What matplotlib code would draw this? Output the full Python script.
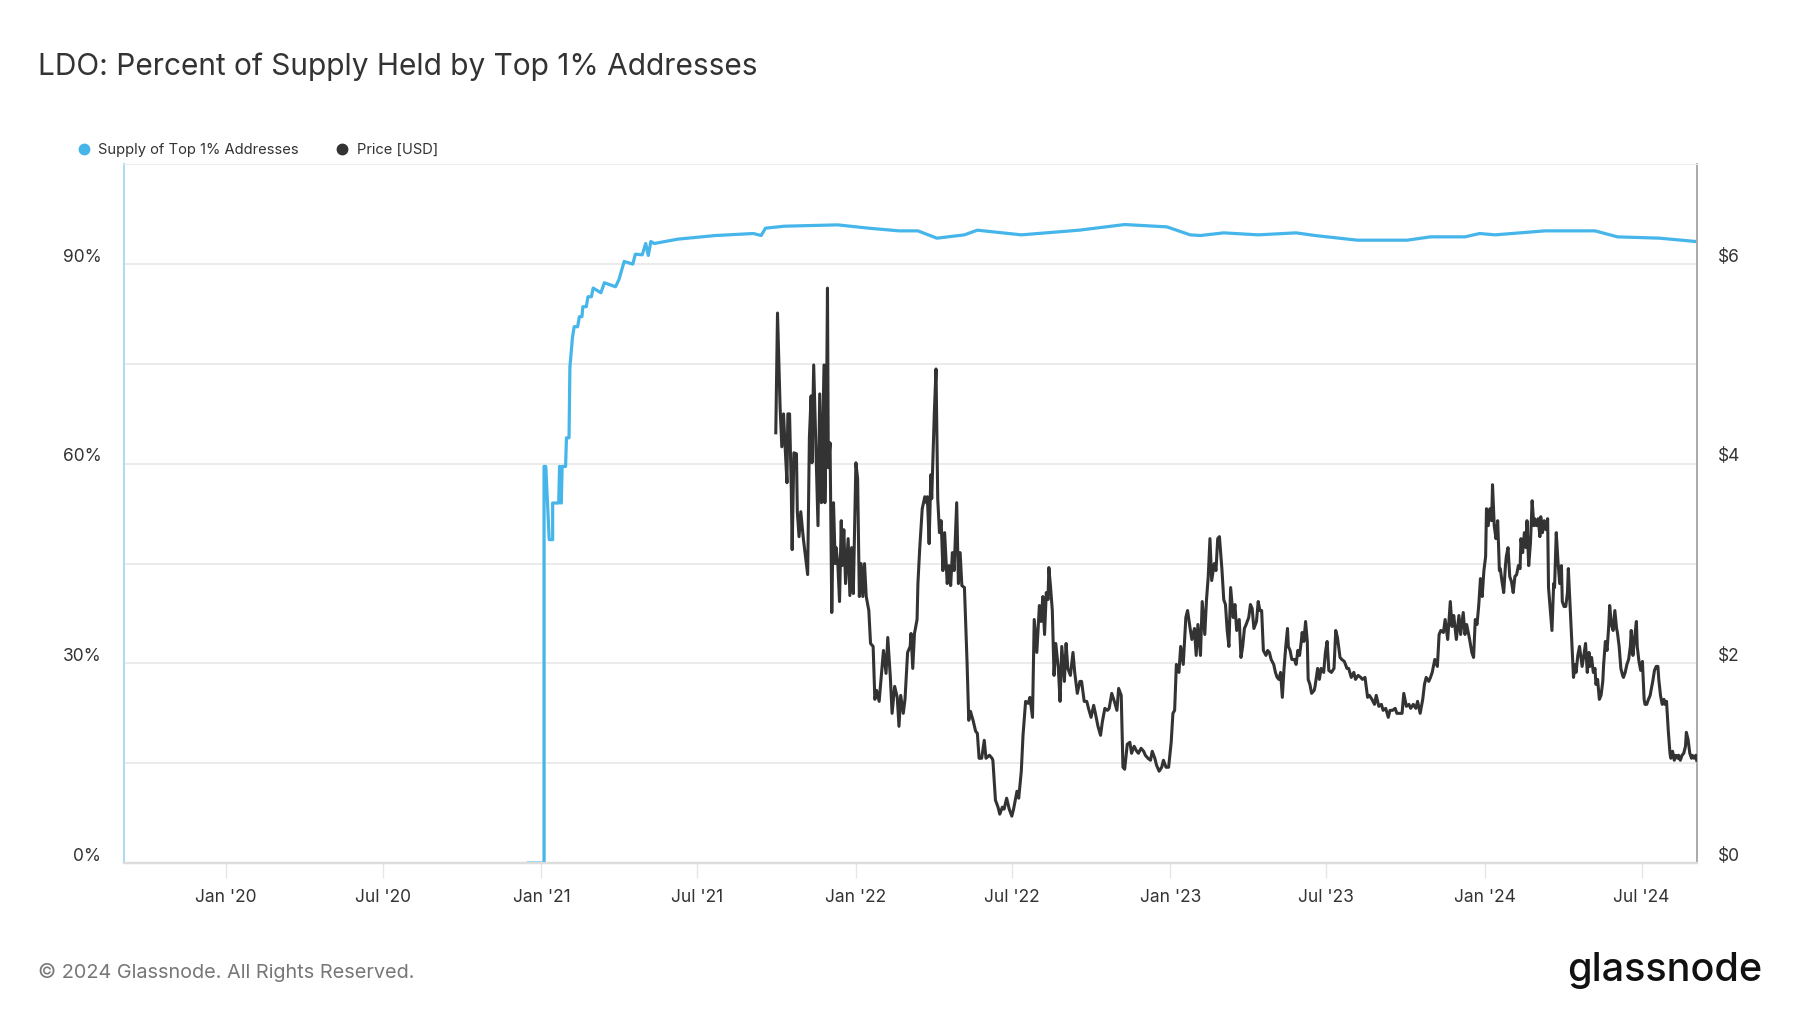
import numpy as np
import matplotlib
matplotlib.use("Agg")
import matplotlib.pyplot as plt
import matplotlib.dates as mdates
from matplotlib.lines import Line2D
from matplotlib.ticker import FixedLocator, FuncFormatter
from matplotlib.transforms import ScaledTranslation

plt.rcParams['font.family'] = ['Inter', 'DejaVu Sans']

# days counted from 2021-01-01
base = np.datetime64('2021-01-01')

supply_day = [-15, 3, 3, 5, 9, 13, 13, 20, 21, 23, 24, 28, 29, 32, 33, 36, 38, 42, 44, 47,
              48, 52, 54, 58, 60, 69, 73, 86, 90, 96, 106, 109, 117, 121, 124, 127, 131,
              158, 202, 246, 255, 260, 282, 344, 380, 415, 437, 459, 491, 506, 557, 624,
              677, 726, 753, 765, 792, 832, 876, 898, 947, 1005, 1032, 1072, 1089, 1107,
              1165, 1223, 1249, 1298, 1340]
supply_pct = [0, 0, 59.6, 59.6, 48.6, 48.6, 54.1, 54.1, 59.6, 54.1, 59.6, 59.6, 63.9, 63.9,
              74.5, 79.0, 80.6, 80.6, 82.1, 82.1, 83.6, 83.6, 85.1, 85.1, 86.4, 85.7, 87.2,
              86.6, 87.7, 90.4, 90.0, 91.5, 91.4, 93.1, 91.3, 93.4, 93.1, 93.75, 94.3, 94.6,
              94.3, 95.4, 95.7, 95.9, 95.4, 95.0, 95.0, 93.9, 94.4, 95.1, 94.4, 95.1, 95.95,
              95.6, 94.4, 94.3, 94.7, 94.4, 94.7, 94.3, 93.6, 93.6, 94.1, 94.1, 94.6, 94.4,
              95.0, 95.0, 94.1, 93.9, 93.4]

price_day = [272, 274, 277, 279, 281, 283, 285, 286, 288, 290, 291, 293, 296, 297, 299, 301,
             304, 309, 311, 313, 314, 316, 319, 321, 323, 325, 328, 329, 331, 332, 333, 335,
             337, 339, 341, 342, 344, 346, 348, 349, 351, 353, 356, 358, 360, 362, 365, 367,
             369, 371, 373, 375, 377, 380, 382, 385, 387, 389, 392, 395, 397, 400, 402, 405,
             407, 410, 413, 415, 417, 420, 422, 425, 428, 429, 431, 433, 436, 437, 439, 442,
             445, 447, 448, 450, 452, 453, 456, 458, 460, 462, 464, 466, 468, 471, 473, 475,
             477, 479, 482, 484, 486, 488, 491, 494, 496, 498, 501, 504, 506, 508, 511, 514,
             516, 520, 523, 524, 527, 530, 532, 535, 537, 540, 543, 546, 548, 552, 554, 557,
             559, 562, 565, 567, 570, 572, 575, 578, 580, 582, 584, 586, 588, 589, 591, 593,
             595, 597, 600, 602, 604, 607, 609, 611, 614, 617, 619, 622, 625, 627, 630, 633,
             635, 638, 641, 643, 646, 649, 651, 654, 657, 659, 662, 665, 668, 670, 673, 675,
             677, 680, 683, 685, 688, 691, 693, 696, 699, 701, 704, 707, 709, 712, 714, 717,
             720, 722, 725, 728, 731, 733, 735, 737, 740, 742, 745, 748, 750, 753, 755, 758,
             760, 762,
             765, 767, 770, 772, 774, 776, 778, 781, 783, 785, 787, 790, 792, 794, 796, 798,
             800, 803, 805, 807, 810, 812, 814, 816, 818, 821, 823, 825, 827, 830, 832, 834,
             836, 838, 841, 843, 845, 847, 850, 852, 854, 856, 858, 860, 862, 864, 866, 867,
             869, 871, 874, 876, 878, 880, 882, 883, 885, 887, 889, 890, 892, 894, 897, 898,
             901, 903, 905, 908, 910, 912, 914, 917, 920, 922, 924, 927, 929, 932, 935, 937,
             940, 943, 945, 948, 951, 953, 956, 959, 961, 964, 967, 969, 972, 975, 977, 980,
             983, 985, 988, 991, 993, 996, 999, 1001, 1004, 1007, 1009, 1012, 1015, 1017,
             1020, 1023, 1025, 1027, 1030, 1032, 1034, 1037, 1040, 1042, 1044, 1047, 1049,
             1052, 1055, 1057, 1059, 1062, 1065, 1067, 1070, 1072, 1074, 1077, 1080, 1082,
             1084, 1086, 1088, 1090, 1092, 1094, 1096, 1097, 1099, 1101, 1103, 1104, 1106,
             1108, 1110, 1112, 1113, 1115, 1117, 1119, 1120, 1122, 1124, 1126, 1128, 1130,
             1132, 1134, 1136, 1137, 1139, 1141, 1143, 1144, 1146, 1148, 1150, 1152, 1153,
             1155, 1157, 1159, 1160, 1162, 1164, 1166, 1168, 1169, 1173, 1175, 1176, 1178,
             1180, 1182, 1184, 1185, 1187, 1189, 1191, 1192, 1194, 1196, 1198, 1200, 1201,
             1203, 1205, 1207, 1208, 1210, 1212, 1214, 1216, 1217, 1219, 1221, 1223, 1224,
             1226, 1228, 1230, 1232, 1233, 1235, 1237, 1239, 1240, 1242, 1244, 1246, 1248,
             1249, 1251, 1253, 1255, 1256, 1258, 1260, 1262, 1264, 1265, 1267, 1269, 1271,
             1272, 1274, 1276, 1278, 1280, 1281, 1283, 1285, 1287, 1288, 1290, 1292, 1294,
             1296, 1297, 1299, 1301, 1303, 1304, 1306, 1308, 1310, 1311, 1313, 1315, 1317,
             1319, 1320, 1322, 1324, 1326, 1328, 1329, 1331, 1333, 1335, 1336, 1338, 1340, 1341]
price_usd = [4.31, 5.51, 4.57, 4.17, 4.50, 4.14, 3.81, 4.50, 4.50, 3.74, 3.14, 4.11, 4.10, 3.52,
             3.27, 3.52, 3.25, 2.89, 4.26, 4.68, 4.01, 4.99, 4.01, 3.38, 4.70, 3.61, 4.99, 3.61,
             4.68, 5.76, 3.96, 4.21, 2.51, 3.61, 3.00, 3.16, 3.00, 2.62, 3.43, 2.98, 3.34, 2.80,
             3.25, 2.68, 3.16, 2.70, 4.01, 3.85, 2.67, 3.00, 2.67, 3.00, 2.67, 2.53, 2.20, 2.17,
             1.64, 1.73, 1.62, 1.93, 2.13, 1.90, 2.26, 1.86, 1.50, 1.77, 1.66, 1.37, 1.68, 1.50,
             1.64, 2.11, 2.17, 2.30, 1.95, 2.30, 2.44, 2.80, 3.14, 3.55, 3.67, 3.61, 3.67, 3.20,
             3.89, 3.65, 4.50, 4.95, 3.65, 3.31, 3.43, 2.93, 3.31, 2.80, 2.98, 2.78, 3.11, 2.93,
             3.61, 2.80, 3.11, 2.78, 2.76, 2.02, 1.43, 1.52, 1.43, 1.32, 1.30, 1.05, 1.05, 1.23,
             1.05, 1.08, 1.05, 1.03, 0.63, 0.56, 0.49, 0.56, 0.54, 0.65, 0.54, 0.47, 0.54, 0.72,
             0.65, 0.92, 1.28, 1.62, 1.60, 1.66, 1.46, 2.44, 2.11, 2.58, 2.42, 2.67, 2.29, 2.71,
             2.64, 2.96, 2.76, 2.53, 1.88, 2.20, 1.95, 1.62, 2.17, 1.82, 2.20, 1.95, 1.88, 2.11,
             1.91, 1.70, 1.82, 1.82, 1.62, 1.62, 1.55, 1.46, 1.58, 1.50, 1.37, 1.28, 1.41, 1.55,
             1.53, 1.55, 1.70, 1.62, 1.53, 1.75, 1.68, 0.96, 0.94, 1.19, 1.21, 1.10, 1.17, 1.12,
             1.10, 1.15, 1.12, 1.08, 1.05, 1.03, 1.12, 1.05, 0.98, 0.92, 0.96, 1.03, 0.96, 0.96,
             1.21, 1.50, 1.53, 1.99, 1.91, 2.17, 1.99, 2.46, 2.53, 2.35, 2.24, 2.35, 2.08, 2.39,
             2.08, 2.62, 2.29, 2.64, 2.87, 3.25, 2.83, 3.00, 2.93, 3.25, 3.27, 2.93, 2.64, 2.59,
             2.33, 2.17, 2.76, 2.46, 2.59, 2.33, 2.44, 2.06, 2.17, 2.35, 2.39, 2.46, 2.59, 2.55,
             2.35, 2.42, 2.62, 2.53, 2.53, 2.13, 2.08, 2.13, 2.11, 2.04, 1.99, 1.91, 1.86, 1.84,
             1.91, 1.66, 1.95, 2.17, 2.35, 2.17, 2.13, 2.04, 2.04, 1.99, 2.13, 2.08, 2.22, 2.31,
             2.22, 2.42, 2.22, 1.84, 1.79, 1.70, 1.73, 1.77, 1.95, 1.84, 1.95, 1.91, 2.11, 2.22,
             1.93, 1.91, 1.95, 2.33, 2.26, 2.06, 2.04, 2.02, 1.95, 1.95, 1.86, 1.91, 1.84, 1.88,
             1.86, 1.84, 1.86, 1.66, 1.68, 1.64, 1.59, 1.68, 1.57, 1.59, 1.53, 1.55, 1.46, 1.53,
             1.53, 1.55, 1.50, 1.50, 1.50, 1.70, 1.57, 1.59, 1.55, 1.59, 1.55, 1.62, 1.50, 1.64,
             1.79, 1.86, 1.82, 1.86, 1.91, 2.04, 1.97, 2.29, 2.33, 2.31, 2.44, 2.24, 2.62, 2.37,
             2.48, 2.24, 2.48, 2.29, 2.51, 2.29, 2.39, 2.26, 2.11, 2.06, 2.44, 2.39, 2.58, 2.85,
             2.67, 2.93, 3.07, 3.55, 3.38, 3.55, 3.43, 3.79, 3.38, 3.25, 3.43, 2.93, 2.95, 2.82,
             2.71, 2.98, 3.07, 3.16, 2.87, 2.82, 2.71, 2.87, 2.89, 2.98, 2.95, 3.25, 3.11, 3.31,
             3.16, 3.43, 2.98, 3.20, 3.63, 3.38, 3.45, 3.38, 3.45, 3.27, 3.47, 3.31, 3.43, 3.34,
             3.45, 2.76, 2.33, 2.80, 2.76, 3.31, 3.02, 2.80, 2.98, 2.62, 2.57, 2.57, 2.71, 2.95,
             2.59, 2.24, 1.86, 1.99, 1.91, 2.08, 2.17, 2.04, 1.97, 2.08, 2.20, 1.91, 2.11, 1.97,
             2.06, 1.91, 1.95, 1.79, 1.84, 1.64, 1.68, 1.82, 1.99, 2.22, 2.13, 2.39, 2.58, 2.39,
             2.33, 2.53, 2.35, 2.31, 2.17, 1.95, 1.88, 1.86, 1.91, 1.99, 2.04, 2.17, 2.33, 2.08,
             2.26, 2.42, 2.17, 2.02, 1.93, 2.02, 1.64, 1.59, 1.59, 1.64, 1.68, 1.73, 1.82, 1.93,
             1.97, 1.97, 1.84, 1.68, 1.59, 1.64, 1.59, 1.62, 1.33, 1.10, 1.05, 1.12, 1.03, 1.08,
             1.05, 1.08, 1.03, 1.08, 1.10, 1.17, 1.31, 1.24, 1.10, 1.05, 1.08, 1.05, 1.08, 1.03]

left_ticks = [0, 30, 60, 90]
right_ticks = [0, 2, 4, 6]
x_ticks = ['2020-01-01', '2020-07-01', '2021-01-01', '2021-07-01', '2022-01-01',
           '2022-07-01', '2023-01-01', '2023-07-01', '2024-01-01', '2024-07-01']

supply_x = base + np.array(supply_day).astype('timedelta64[D]')
price_x = base + np.array(price_day).astype('timedelta64[D]')

blue = '#45b5ea'
dark = '#333333'
grid_c = '#e6e6e6'
text_c = '#333333'

fig = plt.figure(figsize=(18, 10.13), dpi=100)
ax = fig.add_axes([0.0687, 0.148, 0.8739, 0.6898])
ax2 = ax.twinx()

ax.plot(supply_x, supply_pct, color=blue, lw=2.3, zorder=3)
ax2.plot(price_x, price_usd, color=dark, lw=2.2, zorder=3)

ax.set_xlim(np.datetime64('2019-09-04'), np.datetime64('2024-09-03'))
ax.set_ylim(0, 105)
ax2.set_ylim(0, 7)

ax.yaxis.set_major_locator(FixedLocator(left_ticks))
ax.yaxis.set_minor_locator(FixedLocator([15, 45, 75]))
ax.yaxis.set_major_formatter(FuncFormatter(lambda v, p: f"{v:.0f}%"))
ax2.yaxis.set_major_locator(FixedLocator(right_ticks))
ax2.yaxis.set_major_formatter(FuncFormatter(lambda v, p: f"${v:.0f}"))

ax.grid(axis='y', which='both', color=grid_c, lw=1.1)
ax.set_axisbelow(True)

ax.xaxis.set_major_locator(FixedLocator(mdates.date2num(np.array(x_ticks, dtype='datetime64[D]'))))
ax.xaxis.set_major_formatter(mdates.DateFormatter("%b '%y"))

ax.tick_params(axis='x', length=11, width=1, color=grid_c, pad=8, labelsize=12.5, labelcolor=text_c)
ax.tick_params(axis='y', which='both', length=0, pad=16, labelsize=12.5, labelcolor=text_c)
ax2.tick_params(axis='y', length=0, pad=15, labelsize=12.5, labelcolor=text_c)

# y labels sit a little above their grid lines
lift = ScaledTranslation(0, 0.09, fig.dpi_scale_trans)
for lab in ax.get_yticklabels() + ax2.get_yticklabels():
    lab.set_transform(lab.get_transform() + lift)

for a in (ax, ax2):
    a.spines['top'].set_color('#eeeeee')
    a.spines['bottom'].set_color('#dddddd')
    a.spines['bottom'].set_linewidth(1.6)
    a.spines['left'].set_color('#a9dbf4')
    a.spines['left'].set_linewidth(1.2)
    a.spines['right'].set_color('#aaaaaa')
    a.spines['right'].set_linewidth(1.2)

fig.text(0.021, 0.934, "LDO: Percent of Supply Held by Top 1% Addresses",
         fontsize=21.5, color=text_c, va='center', ha='left')

handles = [Line2D([], [], marker='o', ls='', color=blue, markersize=7.5),
           Line2D([], [], marker='o', ls='', color=dark, markersize=7.5)]
fig.legend(handles, ['Supply of Top 1% Addresses', 'Price [USD]'], loc='center left',
           bbox_to_anchor=(0.031, 0.852), ncol=2, frameon=False, fontsize=10.6,
           handletextpad=0.0, columnspacing=1.9, labelcolor=text_c)

fig.text(0.021, 0.040, "\u00a9 2024 Glassnode. All Rights Reserved.",
         fontsize=14.3, color='#777777', va='center', ha='left')
fig.text(0.979, 0.042, "glassnode", fontsize=28.5, color='#111111', va='center',
         ha='right', fontweight='medium')

fig.savefig("out.png", dpi=100)
